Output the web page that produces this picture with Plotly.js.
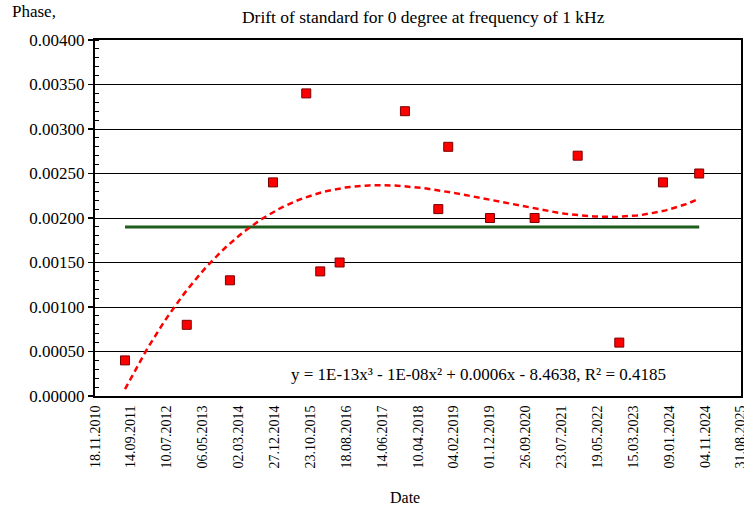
<!DOCTYPE html>
<html>
<head>
<meta charset="utf-8">
<script src="https://cdn.plot.ly/plotly-3.0.1.min.js"></script>
<style>html,body{margin:0;padding:0;background:#fff;}#chart{width:744px;height:508px;}</style>
</head>
<body>
<div id="chart"></div>
<script>
// Measurement dates and phase drift values
var dates = ['2011-07-27','2012-12-24','2013-12-20','2014-12-15','2015-09-19','2016-01-14',
             '2016-06-24','2017-12-22','2018-09-27','2018-12-19','2019-12-03','2020-12-10',
             '2021-12-05','2022-11-18','2023-11-18','2024-09-16'];
var phase = [0.00040,0.00080,0.00130,0.00240,0.00340,0.00140,
             0.00150,0.00320,0.00210,0.00280,0.00200,0.00200,
             0.00270,0.00060,0.00240,0.00250];
// Reference (limit) level line
var refLevel = [0.0019, 0.0019];
var refDates = [dates[0], dates[dates.length-1]];
// Axis settings
var xStart = '2010-11-18', xEnd = '2025-08-31 12:00';
var xTickDays = 300;
var trendLabel = 'y = 1E-13x³ - 1E-08x² + 0.0006x - 8.4638, R² = 0.4185';

// cubic least squares trendline (as the spreadsheet does)
var DAY = 86400000;
function dnum(s){ return Date.parse(s+'T00:00:00Z')/DAY; }
var xs = dates.map(dnum);
var mx = xs.reduce(function(a,b){return a+b;},0)/xs.length;
var sc = 1000;
var ts = xs.map(function(v){return (v-mx)/sc;});
var A = [[0,0,0,0],[0,0,0,0],[0,0,0,0],[0,0,0,0]], B=[0,0,0,0];
for (var k=0;k<ts.length;k++){
  for (var i=0;i<4;i++){
    B[i] += Math.pow(ts[k],i)*phase[k];
    for (var j=0;j<4;j++) A[i][j] += Math.pow(ts[k],i+j);
  }
}
for (var i=0;i<4;i++){
  var p=i; for (var r=i+1;r<4;r++) if (Math.abs(A[r][i])>Math.abs(A[p][i])) p=r;
  var tmp=A[i];A[i]=A[p];A[p]=tmp; var tb=B[i];B[i]=B[p];B[p]=tb;
  for (var r=i+1;r<4;r++){ var f=A[r][i]/A[i][i]; for (var c=i;c<4;c++) A[r][c]-=f*A[i][c]; B[r]-=f*B[i]; }
}
var coef=[0,0,0,0];
for (var i=3;i>=0;i--){ var s=B[i]; for (var c=i+1;c<4;c++) s-=A[i][c]*coef[c]; coef[i]=s/A[i][i]; }
var tx=[], ty=[];
var x0=xs[0], x1=xs[xs.length-1], N=120;
for (var n=0;n<=N;n++){
  var d=x0+(x1-x0)*n/N, t=(d-mx)/sc;
  tx.push(new Date(d*DAY).toISOString().slice(0,10));
  ty.push(coef[0]+coef[1]*t+coef[2]*t*t+coef[3]*t*t*t);
}

var serif = '"Liberation Serif", "Times New Roman", serif';
var traces = [
  {x: refDates, y: refLevel, mode:'lines', line:{color:'#1d5c1d', width:3}, hoverinfo:'skip'},
  {x: tx, y: ty, mode:'lines', line:{color:'#ff0000', width:2.5, dash:'6px,4px'}, hoverinfo:'skip'},
  {x: dates, y: phase, mode:'markers', marker:{symbol:'square', size:9, color:'#ff0000', line:{color:'#7a0000', width:1}}}
];
var layout = {
  width:744, height:508,
  margin:{l:95, r:3, t:40, b:112},
  paper_bgcolor:'#fff', plot_bgcolor:'#fff',
  showlegend:false,
  font:{family:serif, color:'#000', size:16},
  title:{text:'Drift of standard for 0 degree at frequency of 1 kHz', font:{family:serif, size:17.5, color:'#000'},
         x:0.508, xanchor:'center', xref:'paper', y:0.966, yref:'container', yanchor:'middle'},
  xaxis:{type:'date', range:[xStart, xEnd], tick0:xStart, dtick:xTickDays*DAY, tickformat:'%d.%m.%Y',
         tickangle:-90, tickfont:{family:serif, size:14}, showgrid:false, zeroline:false,
         showline:true, linecolor:'#000', linewidth:2, mirror:true, ticks:'', ticklabelstandoff:2,
         ticklabeloverflow:'allow'},
  yaxis:{range:[0,0.004], dtick:0.0005, tickformat:'.5f', tickfont:{family:serif, size:17},
         showgrid:true, gridcolor:'#000', gridwidth:1, zeroline:false,
         showline:true, linecolor:'#000', linewidth:2, mirror:true,
         ticks:'outside', ticklen:5, tickwidth:1.5, tickcolor:'#000',
         minor:{dtick:0.0001, ticks:'inside', ticklen:4, tickcolor:'#000', tickwidth:1, showgrid:false}},
  annotations:[
    {text:'Phase,', xref:'paper', yref:'paper', x:-0.132, y:1.08, xanchor:'left', yanchor:'middle', showarrow:false, font:{family:serif, size:17}},
    {text:'Date', xref:'paper', yref:'paper', x:0.48, y:-0.285, xanchor:'center', yanchor:'middle', showarrow:false, font:{family:serif, size:16}},
    {text:trendLabel, xref:'paper', yref:'paper', x:0.887, y:0.06, xanchor:'right', yanchor:'middle', showarrow:false, font:{family:serif, size:17}}
  ]
};
Plotly.newPlot('chart', traces, layout, {staticPlot:true, displayModeBar:false});
</script>
</body>
</html>
